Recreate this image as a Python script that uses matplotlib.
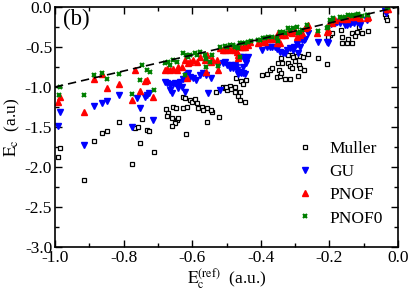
import matplotlib
matplotlib.use("Agg")
import matplotlib.pyplot as plt
from matplotlib.ticker import MultipleLocator

plt.rcParams['font.family'] = ['Liberation Serif', 'DejaVu Serif']
plt.rcParams['mathtext.fontset'] = 'stix'

# reference correlation energy (x) and approximate energies (y), a.u.
muller_x = [-0.985, -0.991, -0.915, -0.886, -0.863, -0.848, -0.813, -0.767, -0.758, -0.752,
            -0.776, -0.732, -0.726, -0.746, -0.711,
            -0.676, -0.671, -0.673, -0.659, -0.656, -0.647, -0.644, -0.650, -0.659, -0.641,
            -0.627, -0.615, -0.618, -0.627, -0.621, -0.606, -0.601, -0.592, -0.586, -0.583,
            -0.571, -0.557, -0.557, -0.522, -0.542, -0.569, -0.545,
            -0.531, -0.510, -0.504, -0.499, -0.490, -0.487, -0.475, -0.475, -0.461, -0.472,
            -0.458, -0.443, -0.452, -0.466, -0.446, -0.461, -0.501,
            -0.397, -0.382, -0.373, -0.367, -0.353, -0.344, -0.347, -0.341, -0.350, -0.338,
            -0.341, -0.329, -0.315, -0.321, -0.315, -0.309, -0.321, -0.309, -0.306, -0.300,
            -0.294, -0.286, -0.277, -0.262, -0.289, -0.286, -0.274, -0.292, -0.233, -0.207,
            -0.198, -0.192, -0.204, -0.166, -0.163, -0.163, -0.149, -0.146, -0.134, -0.134,
            -0.120, -0.125, -0.114, -0.105, -0.087, -0.035, -0.032, -0.038]
muller_y = [-1.76, -1.875, -2.16, -1.675, -1.575, -1.55, -1.44, -1.51, -1.50, -1.70,
            -1.96, -1.54, -1.55, -1.40, -1.81,
            -1.275, -1.325, -1.36, -1.39, -1.25, -1.26, -1.41, -1.45, -1.49, -1.39,
            -1.26, -1.25, -1.59, -1.125, -1.14, -1.16, -1.19, -1.15, -1.20, -1.26,
            -1.25, -1.26, -1.44, -1.375, -1.31, -1.29, -1.29,
            -1.06, -1.00, -1.01, -1.04, -0.99, -1.025, -1.00, -1.06, -1.06, -0.89,
            -0.925, -0.91, -0.96, -1.11, -1.19, -1.16, -1.00,
            -0.85, -0.84, -0.79, -0.76, -0.875, -0.86, -0.79, -0.825, -0.70, -0.70,
            -0.64, -0.90, -0.90, -0.70, -0.74, -0.76, -0.60, -0.60, -0.625, -0.675,
            -0.61, -0.61, -0.625, -0.59, -0.725, -0.76, -0.79, -0.86, -0.64, -0.71,
            -0.35, -0.325, -0.375, -0.29, -0.375, -0.45, -0.45, -0.40, -0.45, -0.325,
            -0.31, -0.36, -0.25, -0.325, -0.30, -0.125, -0.16, -0.09]

gu_x = [-0.985, -0.991, -0.915, -0.886, -0.863, -0.848, -0.813, -0.776, -0.752, -0.761,
        -0.738, -0.732, -0.726, -0.714, -0.679, -0.673, -0.665, -0.659, -0.665, -0.656,
        -0.650, -0.644, -0.641, -0.636, -0.630, -0.627, -0.621, -0.615, -0.612, -0.606,
        -0.598, -0.589, -0.577, -0.569, -0.560, -0.545, -0.554, -0.519, -0.525, -0.510,
        -0.504, -0.499, -0.490, -0.487, -0.481, -0.475, -0.472, -0.469, -0.466, -0.461,
        -0.458, -0.452, -0.446, -0.452, -0.461, -0.452, -0.446, -0.443, -0.437,
        -0.397, -0.382, -0.373, -0.367, -0.359, -0.353, -0.344, -0.335, -0.329, -0.324,
        -0.315, -0.306, -0.303, -0.294, -0.292, -0.286, -0.280, -0.274, -0.271, -0.262,
        -0.233, -0.207, -0.204, -0.195, -0.184, -0.178, -0.169, -0.155, -0.149, -0.140,
        -0.134, -0.128, -0.120, -0.111, -0.117, -0.090, -0.035, -0.038]
gu_y = [-1.31, -1.49, -1.725, -1.24, -1.20, -1.175, -1.10, -1.50, -1.26, -1.14,
        -1.125, -1.10, -1.075, -1.41, -0.94, -0.95, -0.975, -1.075, -1.04, -0.96,
        -0.95, -0.96, -1.01, -0.94, -1.00, -0.90, -1.06, -0.85, -0.825, -0.875,
        -0.89, -0.91, -0.85, -0.825, -0.85, -0.89, -1.075, -1.04, -0.725, -0.70,
        -0.69, -0.725, -0.76, -0.725, -0.76, -0.725, -0.75, -0.79, -0.84, -0.81,
        -0.825, -0.825, -0.84, -0.75, -0.625, -0.625, -0.66, -0.70, -0.625,
        -0.54, -0.50, -0.50, -0.50, -0.50, -0.525, -0.56, -0.575, -0.575, -0.54,
        -0.51, -0.54, -0.50, -0.46, -0.575, -0.50, -0.41, -0.41, -0.40, -0.325,
        -0.44, -0.44, -0.45, -0.21, -0.20, -0.19, -0.20, -0.225, -0.225, -0.21,
        -0.19, -0.20, -0.19, -0.225, -0.175, -0.16, -0.075, -0.05]

pnof_x = [-0.985, -0.991, -0.915, -0.886, -0.863, -0.848, -0.813, -0.776, -0.767, -0.752,
          -0.738, -0.732, -0.714, -0.679, -0.673, -0.665, -0.656, -0.644, -0.641, -0.630,
          -0.621, -0.612, -0.615, -0.606, -0.598, -0.586, -0.577, -0.563, -0.557, -0.545,
          -0.560, -0.542, -0.525, -0.528, -0.519, -0.510, -0.504, -0.496, -0.490, -0.481,
          -0.475, -0.469, -0.466, -0.461, -0.452, -0.446, -0.437, -0.431, -0.466,
          -0.408, -0.397, -0.388, -0.379, -0.367, -0.359, -0.353, -0.344, -0.350, -0.338,
          -0.329, -0.321, -0.315, -0.309, -0.300, -0.294, -0.286, -0.280, -0.271, -0.265,
          -0.262, -0.236, -0.207, -0.204, -0.198, -0.192, -0.184, -0.169, -0.160, -0.149,
          -0.140, -0.131, -0.125, -0.117, -0.111, -0.090, -0.087, -0.032, -0.029]
pnof_y = [-1.125, -1.19, -1.31, -0.90, -0.84, -1.01, -0.96, -1.16, -0.79, -1.05,
          -0.925, -0.91, -1.125, -0.79, -0.775, -0.79, -0.775, -0.79, -0.75, -0.75,
          -0.66, -0.70, -0.89, -0.69, -0.66, -0.69, -0.625, -0.66, -0.60, -0.69,
          -0.81, -0.65, -0.79, -0.66, -0.51, -0.54, -0.54, -0.51, -0.54, -0.51,
          -0.54, -0.56, -0.60, -0.50, -0.50, -0.50, -0.475, -0.44, -0.64,
          -0.45, -0.44, -0.44, -0.40, -0.40, -0.39, -0.45, -0.45, -0.325, -0.35,
          -0.35, -0.31, -0.31, -0.325, -0.30, -0.375, -0.35, -0.325, -0.26, -0.25,
          -0.225, -0.325, -0.31, -0.29, -0.19, -0.20, -0.16, -0.14, -0.15, -0.15,
          -0.125, -0.11, -0.125, -0.10, -0.14, -0.14, -0.125, -0.03, -0.02]

pnof0_x = [-0.985, -0.988, -0.915, -0.886, -0.863, -0.848, -0.813, -0.776, -0.752, -0.746,
           -0.732, -0.723, -0.711, -0.679, -0.671, -0.665, -0.656, -0.644, -0.627, -0.618,
           -0.612, -0.621, -0.606, -0.592, -0.586, -0.577, -0.563, -0.560, -0.548, -0.542,
           -0.560, -0.525, -0.519, -0.504, -0.499, -0.490, -0.481, -0.475, -0.469, -0.466,
           -0.461, -0.455, -0.446, -0.437, -0.429, -0.461,
           -0.408, -0.402, -0.394, -0.388, -0.379, -0.367, -0.353, -0.350, -0.344, -0.335,
           -0.329, -0.321, -0.315, -0.306, -0.294, -0.292, -0.286, -0.280, -0.265, -0.233,
           -0.207, -0.204, -0.198, -0.190, -0.192, -0.169, -0.163, -0.155, -0.146, -0.134,
           -0.131, -0.120, -0.117, -0.105, -0.090, -0.087, -0.032, -0.029]
pnof0_y = [-1.00, -1.10, -1.10, -0.85, -0.825, -0.90, -0.84, -1.09, -0.91, -0.725,
           -0.79, -0.81, -1.04, -0.70, -0.69, -0.725, -0.66, -0.69, -0.575, -0.60,
           -0.625, -0.85, -0.60, -0.575, -0.60, -0.56, -0.60, -0.65, -0.69, -0.60,
           -0.75, -0.74, -0.50, -0.49, -0.50, -0.475, -0.475, -0.50, -0.50, -0.51,
           -0.45, -0.45, -0.45, -0.44, -0.425, -0.625,
           -0.41, -0.41, -0.39, -0.39, -0.375, -0.375, -0.39, -0.425, -0.31, -0.31,
           -0.325, -0.26, -0.29, -0.26, -0.25, -0.325, -0.31, -0.29, -0.225, -0.30,
           -0.26, -0.25, -0.16, -0.14, -0.175, -0.125, -0.14, -0.125, -0.10, -0.11,
           -0.10, -0.10, -0.09, -0.11, -0.10, -0.10, -0.015, -0.005]

fig = plt.figure(figsize=(4.09, 2.96), dpi=100)
ax = fig.add_axes([55 / 409, 1 - 247 / 296, 343 / 409, 240 / 296])

ax.plot(muller_x, muller_y, ls='none', marker='s', ms=2.9, mfc='white', mec='black',
        mew=0.9, label='Muller')
ax.plot(gu_x, gu_y, ls='none', marker='v', ms=4.4, color='#0000ff', mec='#0000ff',
        label='GU')
ax.plot(pnof_x, pnof_y, ls='none', marker='^', ms=4.4, color='#ff0000', mec='#ff0000',
        label='PNOF')
ax.plot(pnof0_x, pnof0_y, ls='none', marker='x', ms=3.4, color='#008000', mew=1.5,
        label='PNOF0')
ax.plot([-1.0, 0.0], [-1.0, 0.0], ls=(0, (5, 3)), color='black', lw=1.2, zorder=5)

ax.set_xlim(-1.0, 0.0)
ax.set_ylim(-3.0, 0.0)
ax.xaxis.set_major_locator(MultipleLocator(0.2))
ax.xaxis.set_minor_locator(MultipleLocator(0.1))
ax.yaxis.set_major_locator(MultipleLocator(0.5))
ax.yaxis.set_minor_locator(MultipleLocator(0.25))
ax.tick_params(which='both', direction='in', top=True, right=True, labelsize=12.5, pad=2)
ax.tick_params(which='major', length=5, width=1)
ax.tick_params(which='minor', length=3, width=1)
ax.set_xticks([-1.0, -0.8, -0.6, -0.4, -0.2, 0.0])
ax.set_xticklabels(['-1.0', '-0.8', '-0.6', '-0.4', '-0.2', '0.0'])
ax.set_yticks([-3.0, -2.5, -2.0, -1.5, -1.0, -0.5, 0.0])
ax.set_yticklabels(['-3.0', '-2.5', '-2.0', '-1.5', '-1.0', '-0.5', '0.0'])
for sp in ax.spines.values():
    sp.set_linewidth(1.2)

ax.set_xlabel(r'$\mathrm{E_c^{(ref)}}$  (a.u.)', fontsize=12.5, labelpad=0)
ax.set_ylabel(r'$\mathrm{E_c}$  (a.u)', fontsize=12.5, labelpad=2)
ax.text(-0.977, -0.15, '(b)', fontsize=16.5, va='center', ha='left')

ax.legend(loc='lower right', frameon=False, fontsize=12.5, handletextpad=0.8,
          labelspacing=0.4, borderaxespad=0.5, handlelength=1.2,
          bbox_to_anchor=(1.0, 0.02))

fig.savefig('out.png', dpi=100)
